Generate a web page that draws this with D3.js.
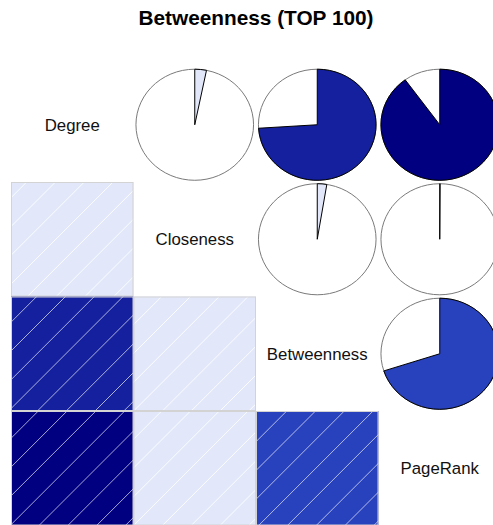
<!DOCTYPE html>
<html>
<head>
<meta charset="utf-8">
<script src="https://cdn.jsdelivr.net/npm/d3@7"></script>
<style>
  html, body { margin: 0; padding: 0; background: #fff; }
  svg { display: block; }
  text { font-family: "Liberation Sans", Arial, sans-serif; }
</style>
</head>
<body>
<svg id="chart" width="493" height="525"></svg>
<script>
// Centrality measures compared for the top-100 nodes
const variables = ["Degree", "Closeness", "Betweenness", "PageRank"];
const chartTitle = "Betweenness (TOP 100)";

// Pairwise correlations (row variable, column variable, r)
const pairA = ["Degree", "Degree", "Degree", "Closeness", "Closeness", "Betweenness"];
const pairB = ["Closeness", "Betweenness", "PageRank", "Betweenness", "PageRank", "PageRank"];
const pairR = [0.032, 0.74, 0.90, 0.026, 0.001, 0.70];

// Hatch phase for each shaded panel (px along x+y from the panel's top-left corner)
const hatchPhase = { "Closeness|Degree": 15.7, "Betweenness|Degree": 25.7, "Betweenness|Closeness": 28.2,
                     "PageRank|Degree": 27.3, "PageRank|Closeness": 28.2, "PageRank|Betweenness": 1.9 };

const svg = d3.select("#chart");

// Panel grid
const x = d3.scaleBand().domain(variables).range([11, 501]);
const y = d3.scaleBand().domain(variables).range([67.5, 525.5]);
const cw = x.bandwidth(), ch = y.bandwidth();

// Colour ramp red -> salmon -> white -> royalblue -> navy, cut into 14 bins over [-1, 1]
const ncol = 14;
const ramp = d3.scaleLinear()
  .domain([0, 0.25, 0.5, 0.75, 1])
  .range(["red", "salmon", "white", "royalblue", "navy"])
  .interpolate(d3.interpolateRgb);
const palette = d3.range(ncol).map(i => ramp(i / (ncol - 1)));
const binOf = d3.scaleQuantize().domain([-1, 1]).range(d3.range(ncol));
const colorOf = r => palette[binOf(r)];

const pairs = pairA.map((a, i) => ({ a, b: pairB[i], r: pairR[i] }));

// Title, centred over the panel grid
const [gx0, gx1] = x.range();
svg.append("text")
  .attr("x", (gx0 + gx1) / 2).attr("y", 25)
  .attr("text-anchor", "middle")
  .style("font-size", "20.8px").style("font-weight", "bold")
  .text(chartTitle);

// Diagonal labels
svg.selectAll("text.lab").data(variables).join("text")
  .attr("class", "lab")
  .attr("x", d => x(d) + cw / 2)
  .attr("y", d => y(d) + ch / 2)
  .attr("dy", "0.36em")
  .attr("text-anchor", "middle")
  .style("font-size", "16.8px")
  .attr("fill", "#111")
  .text(d => d);

// Lower panels: shaded squares with white hatching
const defs = svg.append("defs");
const hatchStep = 28.8;
pairs.forEach((p, i) => {
  const rowVar = p.b, colVar = p.a;          // lower triangle: row = later variable
  const x0 = x(colVar), y0 = y(rowVar);
  const g = svg.append("g");
  const clipId = "clip" + i;
  defs.append("clipPath").attr("id", clipId)
    .append("rect").attr("x", x0).attr("y", y0).attr("width", cw).attr("height", ch);
  g.append("rect")
    .attr("x", x0).attr("y", y0).attr("width", cw).attr("height", ch)
    .attr("fill", colorOf(p.r));
  const hg = g.append("g").attr("clip-path", `url(#${clipId})`);
  const key = rowVar + "|" + colVar;
  const start = x0 + y0 + (hatchPhase[key] || 0) - hatchStep;
  const consts = d3.range(start, x0 + cw + y0 + ch + hatchStep, hatchStep);
  hg.selectAll("line").data(consts).join("line")
    .attr("x1", c => c - (y0 + ch + 2)).attr("y1", y0 + ch + 2)
    .attr("x2", c => c - (y0 - 2)).attr("y2", y0 - 2)
    .attr("stroke", "#ffffff").attr("stroke-opacity", p.r > 0.5 ? 0.65 : 0.85)
    .attr("stroke-width", 1);
  g.append("rect")
    .attr("x", x0 + 0.5).attr("y", y0 + 0.5).attr("width", cw - 1).attr("height", ch - 1)
    .attr("fill", "none").attr("stroke", "#d3d3d3").attr("stroke-width", 1);
});

// Upper panels: pies filled clockwise from 12 o'clock by r
const angle = d3.scaleLinear().domain([0, 1]).range([0, 2 * Math.PI]);
pairs.forEach(p => {
  const cx = x(p.b) + cw / 2, cy = y(p.a) + ch / 2;
  const rx = cw * 0.48, ry = ch * 0.485;
  const pt = t => [cx + rx * Math.sin(t), cy - ry * Math.cos(t)];
  // outline circle, 60 segments
  const circ = d3.range(61).map(k => pt(2 * Math.PI * k / 60));
  svg.append("path")
    .attr("d", d3.line()(circ) + "Z")
    .attr("fill", "white").attr("stroke", "#7a7a7a").attr("stroke-width", 1);
  // filled wedge
  const end = angle(Math.abs(p.r)) * Math.sign(p.r);
  const n = Math.max(2, Math.ceil(Math.abs(end) / (2 * Math.PI) * 60));
  const arcPts = d3.range(n + 1).map(k => pt(end * k / n));
  svg.append("path")
    .attr("d", d3.line()([[cx, cy], ...arcPts]) + "Z")
    .attr("fill", colorOf(p.r)).attr("stroke", "#000").attr("stroke-width", 1)
    .attr("stroke-linejoin", "round");
});
</script>
</body>
</html>
